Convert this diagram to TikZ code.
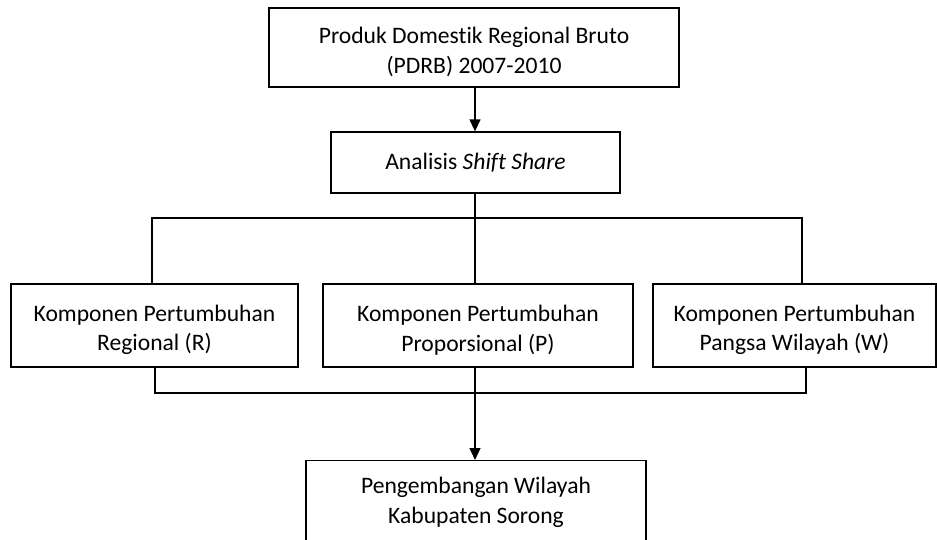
\documentclass[tikz,border=0pt]{standalone}
\usepackage{fontspec}
\setmainfont{Carlito}[Ligatures={NoCommon}]
\usetikzlibrary{arrows.meta}
\newcommand{\tstrut}{\rule{0pt}{25pt}}
\begin{document}
\begin{tikzpicture}[x=1pt,y=-1pt,
  box/.style={draw, line width=1.3pt, align=center, inner sep=0pt,
    font=\fontsize{23.6}{29.8}\selectfont},
  conn/.style={line width=1.3pt},
  arr/.style={conn, -{Triangle[width=11pt,length=12pt]}}]
\useasboundingbox (0,0) rectangle (937,539);
\clip (0,0) rectangle (937,539);
\node[box, minimum width=410pt, minimum height=79pt] (top) at (474,47.5)
  {\tstrut Produk Domestik Regional Bruto\\(PDRB) 2007-2010};
\node[box, minimum width=289pt, minimum height=61pt] (ana) at (475.5,162.5)
  {Analisis \textit{Shift Share}};
\node[box, minimum width=287pt, minimum height=83pt] (r) at (154.5,325.5)
  {\tstrut Komponen Pertumbuhan\\Regional (R)};
\node[box, minimum width=310pt, minimum height=83pt] (p) at (478,325.5)
  {\tstrut Komponen Pertumbuhan\\Proporsional (P)};
\node[box, minimum width=283pt, minimum height=83pt] (w) at (794.5,325.5)
  {\tstrut Komponen Pertumbuhan\\Pangsa Wilayah (W)};
\node[box, minimum width=340pt, minimum height=84pt, anchor=north] (bot) at (476,460)
  {\parbox{340pt}{\centering Pengembangan Wilayah\\Kabupaten Sorong}};
\coordinate (hl) at (152,218);
\coordinate (hr) at (802,218);
\coordinate (bl) at (155,393);
\coordinate (br) at (806,393);
\coordinate (mx) at (475,0);
\draw[arr] (top.south -| mx) -- (ana.north -| mx);
\draw[conn] (ana.south -| mx) -- (p.north -| mx);
\draw[conn] (r.north -| hl) |- (hr) -- (hr |- w.north);
\draw[conn] (r.south -| bl) |- (br) -- (br |- w.south);
\draw[arr] (p.south -| mx) -- (bot.north -| mx);
\end{tikzpicture}
\end{document}
